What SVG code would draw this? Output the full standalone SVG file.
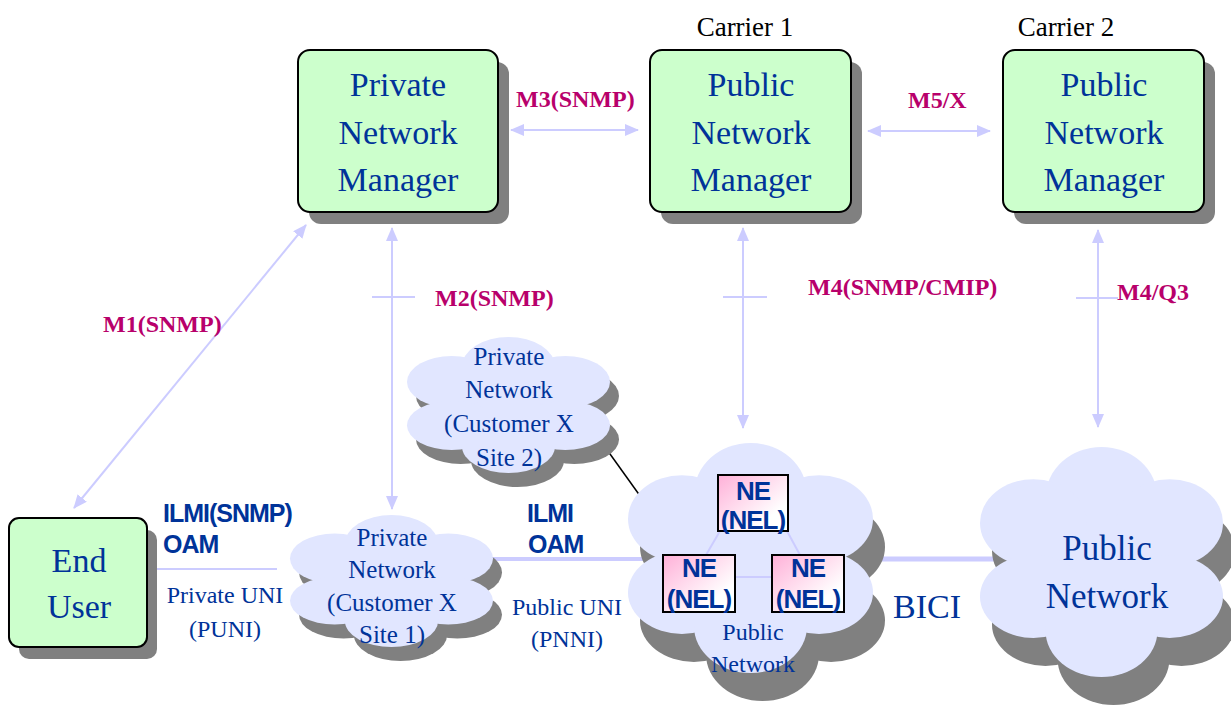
<svg xmlns="http://www.w3.org/2000/svg" width="1231" height="711" viewBox="0 0 1231 711">
  <defs>
    <style>
      .mgr{fill:#CCFFCC;stroke:#000;stroke-width:2}
      .shadow{fill:#808080}
      .t{font-family:"Liberation Serif","Times New Roman",serif;fill:#003399;text-anchor:middle}
      .big{font-size:34px}
      .mid{font-size:24px}
      .cl{font-size:25px}
      .carrier{font-family:"Liberation Serif","Times New Roman",serif;font-size:27px;fill:#000;text-anchor:middle}
      .lbl{font-family:"Liberation Serif","Times New Roman",serif;font-weight:bold;font-size:24px;fill:#B8006B}
      .sans{font-family:"Liberation Sans",Arial,sans-serif;font-weight:bold;fill:#003399;font-size:25px;letter-spacing:-1px}
      .nelbl{font-family:"Liberation Sans",Arial,sans-serif;font-weight:bold;fill:#003399;font-size:26px;letter-spacing:-1px;text-anchor:middle}
      .link{stroke:#CCCCFF;stroke-width:2;fill:none}
      .arr{marker-start:url(#ah);marker-end:url(#ah)}
      .ne{stroke:#000;stroke-width:2;fill:url(#neFill)}
      .cloudFill{fill:#E1E6FF}
    </style>
    <marker id="ah" markerUnits="userSpaceOnUse" viewBox="0 0 14 12" refX="13" refY="6" markerWidth="14" markerHeight="12" orient="auto-start-reverse">
      <path d="M0 0L14 6L0 12z" fill="#CCCCFF"/>
    </marker>
    <linearGradient id="neFill" x1="0" y1="0" x2="1" y2="1">
      <stop offset="0" stop-color="#FFB0D8"/>
      <stop offset="0.75" stop-color="#FFFFFF"/>
    </linearGradient>
    <!-- six-lobed cloud in a 100x100 box; fill comes from the <use> -->
    <g id="cloud">
      <ellipse cx="50" cy="50" rx="34" ry="32"/>
      <ellipse cx="50" cy="22" rx="23" ry="22"/>
      <ellipse cx="22" cy="33" rx="22" ry="19"/>
      <ellipse cx="78" cy="33" rx="22" ry="19"/>
      <ellipse cx="22" cy="65" rx="22" ry="18"/>
      <ellipse cx="78" cy="65" rx="22" ry="18"/>
      <ellipse cx="50" cy="80" rx="23" ry="20"/>
    </g>
  </defs>

  <rect width="1231" height="711" fill="#FFFFFF"/>

  <!-- connectors -->
  <g id="connectors">
    <line class="link arr" x1="74" y1="508" x2="306" y2="225"/>
    <line class="link arr" x1="392" y1="228" x2="392" y2="509"/>
    <line class="link" x1="372" y1="297" x2="415" y2="297"/>
    <line class="link arr" x1="511" y1="130" x2="638" y2="130"/>
    <line class="link arr" x1="743" y1="228" x2="743" y2="428"/>
    <line class="link" x1="723" y1="297" x2="767" y2="297"/>
    <line class="link arr" x1="868" y1="131" x2="990" y2="131"/>
    <line class="link arr" x1="1098" y1="230" x2="1098" y2="427"/>
    <line class="link" x1="1076" y1="298" x2="1118" y2="298"/>
    <line class="link" x1="157" y1="569" x2="277" y2="569"/>
    <line class="link" style="stroke-width:4" x1="480" y1="559" x2="650" y2="559"/>
    <line class="link" style="stroke-width:5" x1="860" y1="559" x2="1000" y2="559"/>
    <line x1="600" y1="440" x2="643" y2="500" stroke="#000" stroke-width="1.5"/>
  </g>

  <!-- managers -->
  <g id="private-manager">
    <rect class="shadow" x="309" y="62" width="200" height="162" rx="12"/>
    <rect class="mgr" x="298" y="50" width="200" height="162" rx="12"/>
    <text class="t big" x="398" y="96">Private</text>
    <text class="t big" x="398" y="144">Network</text>
    <text class="t big" x="398" y="191">Manager</text>
  </g>

  <g id="carrier1-manager">
    <text class="carrier" x="745" y="36">Carrier 1</text>
    <rect class="shadow" x="661" y="62" width="201" height="162" rx="12"/>
    <rect class="mgr" x="650" y="50" width="201" height="162" rx="12"/>
    <text class="t big" x="751" y="96">Public</text>
    <text class="t big" x="751" y="144">Network</text>
    <text class="t big" x="751" y="191">Manager</text>
  </g>

  <g id="carrier2-manager">
    <text class="carrier" x="1066" y="36">Carrier 2</text>
    <rect class="shadow" x="1014" y="62" width="201" height="162" rx="12"/>
    <rect class="mgr" x="1003" y="50" width="201" height="162" rx="12"/>
    <text class="t big" x="1104" y="96">Public</text>
    <text class="t big" x="1104" y="144">Network</text>
    <text class="t big" x="1104" y="191">Manager</text>
  </g>

  <!-- end user -->
  <g id="end-user">
    <rect class="shadow" x="19" y="530" width="138" height="129" rx="10"/>
    <rect class="mgr" x="9" y="518" width="138" height="129" rx="10"/>
    <text class="t big" x="79" y="572">End</text>
    <text class="t big" x="79" y="618">User</text>
  </g>

  <!-- private network, site 2 -->
  <g id="private-site2">
    <use href="#cloud" class="shadow" transform="translate(416,351) scale(2.03,1.36)"/>
    <use href="#cloud" class="cloudFill" transform="translate(407,337) scale(2.03,1.36)"/>
    <text class="t cl" x="509" y="365">Private</text>
    <text class="t cl" x="509" y="398">Network</text>
    <text class="t cl" x="509" y="432">(Customer X</text>
    <text class="t cl" x="509" y="466">Site 2)</text>
  </g>

  <!-- private network, site 1 -->
  <g id="private-site1">
    <use href="#cloud" class="shadow" transform="translate(299,529) scale(2.03,1.32)"/>
    <use href="#cloud" class="cloudFill" transform="translate(290,515) scale(2.03,1.32)"/>
    <text class="t cl" x="392" y="546">Private</text>
    <text class="t cl" x="392" y="578">Network</text>
    <text class="t cl" x="392" y="611">(Customer X</text>
    <text class="t cl" x="392" y="643">Site 1)</text>
  </g>

  <!-- public network of carrier 1 with its network elements -->
  <g id="public-network-1">
    <use href="#cloud" class="shadow" transform="translate(640,471) scale(2.45,2.3)"/>
    <use href="#cloud" class="cloudFill" transform="translate(628,443) scale(2.45,2.3)"/>
    <g class="link">
      <line x1="720" y1="531" x2="706" y2="555"/>
      <line x1="787" y1="531" x2="800" y2="555"/>
      <line x1="735" y1="577" x2="772" y2="577"/>
    </g>
    <g id="ne-top">
      <rect class="ne" x="718" y="475" width="70" height="56"/>
      <text class="nelbl" x="753" y="500">NE</text>
      <text class="nelbl" x="753" y="529">(NEL)</text>
    </g>
    <g id="ne-left">
      <rect class="ne" x="663" y="555" width="72" height="57"/>
      <text class="nelbl" x="699" y="577">NE</text>
      <text class="nelbl" x="699" y="608">(NEL)</text>
    </g>
    <g id="ne-right">
      <rect class="ne" x="772" y="555" width="72" height="57"/>
      <text class="nelbl" x="808" y="577">NE</text>
      <text class="nelbl" x="808" y="608">(NEL)</text>
    </g>
    <text class="t mid" x="753" y="640">Public</text>
    <text class="t mid" x="753" y="672">Network</text>
  </g>

  <!-- public network of carrier 2 -->
  <g id="public-network-2">
    <use href="#cloud" class="shadow" transform="translate(992,475) scale(2.43,2.3)"/>
    <use href="#cloud" class="cloudFill" transform="translate(980,447) scale(2.43,2.3)"/>
    <text class="t" style="font-size:35px" x="1107" y="560">Public</text>
    <text class="t" style="font-size:35px" x="1107" y="608">Network</text>
  </g>

  <!-- interface labels -->
  <g id="labels">
    <text class="lbl" x="516" y="107">M3(SNMP)</text>
    <text class="lbl" x="908" y="108">M5/X</text>
    <text class="lbl" x="103" y="332">M1(SNMP)</text>
    <text class="lbl" x="435" y="306">M2(SNMP)</text>
    <text class="lbl" x="808" y="295">M4(SNMP/CMIP)</text>
    <text class="lbl" x="1117" y="300">M4/Q3</text>
    <text class="sans" x="163" y="522">ILMI(SNMP)</text>
    <text class="sans" x="163" y="553">OAM</text>
    <text class="sans" x="527" y="522">ILMI</text>
    <text class="sans" x="528" y="553">OAM</text>
    <text class="t mid" x="225" y="603">Private UNI</text>
    <text class="t mid" x="225" y="637">(PUNI)</text>
    <text class="t mid" x="567" y="615">Public UNI</text>
    <text class="t mid" x="567" y="647">(PNNI)</text>
    <text class="t big" style="text-anchor:start" x="893" y="618">BICI</text>
  </g>
</svg>
